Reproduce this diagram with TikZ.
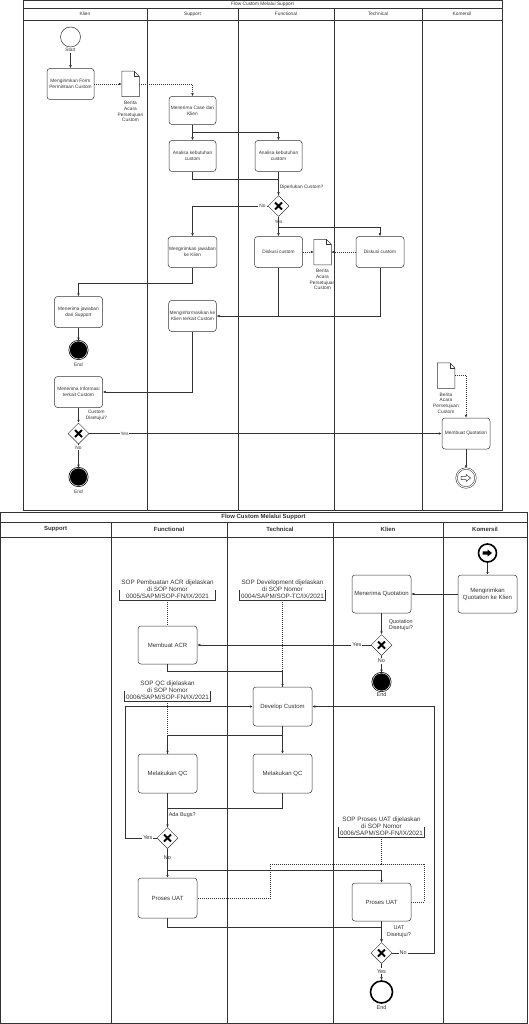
\documentclass[tikz,border=0pt]{standalone}
\usepackage{fontspec}
\setmainfont{Liberation Sans}
\usetikzlibrary{shapes.geometric,arrows.meta}

\newcommand{\kecil}{\fontsize{4.8}{5.6}\selectfont}
\newcommand{\sedang}{\fontsize{6}{7}\selectfont}

% ikon dokumen
\newcommand{\berkas}[2]{%
  \node[dok] (#1) at (#2) {};
  \draw[fill=white] (#1.north west) -- ([xshift=-5pt]#1.north east) -- ([yshift=-5pt]#1.north east) -- (#1.south east) -- (#1.south west) -- cycle;
  \draw ([xshift=-5pt]#1.north east) |- ([yshift=-5pt]#1.north east);
}

\begin{document}
\begin{tikzpicture}[x=1pt, y=-1pt, line width=0.5pt, color=black!80, >={Latex[length=3pt,width=2.6pt]}]
\tikzstyle{kolam}=[line width=0.6pt]
\tikzstyle{tugas}=[draw, rounded corners=3pt, align=center, inner sep=1pt, minimum width=47pt, minimum height=31pt, font=\kecil]
\tikzstyle{tugasB}=[tugas, minimum width=59pt, minimum height=38pt, font=\sedang]
\tikzstyle{gerbang}=[diamond, draw, fill=white, minimum width=21pt, minimum height=21pt, inner sep=0pt,
  path picture={\draw[line width=1.8pt, black] ([shift={(-3.5pt,-3.5pt)}]path picture bounding box.center) -- ([shift={(3.5pt,3.5pt)}]path picture bounding box.center)
    ([shift={(-3.5pt,3.5pt)}]path picture bounding box.center) -- ([shift={(3.5pt,-3.5pt)}]path picture bounding box.center);}]
\tikzstyle{akhir}=[circle, draw=black, fill=black, line width=0.7pt, double=white, double distance=0.5pt, minimum size=18pt, inner sep=0pt]
\tikzstyle{lbl}=[font=\kecil, inner sep=1pt]
\tikzstyle{lblB}=[font=\fontsize{5.5}{6.3}\selectfont, inner sep=1pt]
\tikzstyle{data}=[dash pattern=on 1pt off 1pt]
\tikzstyle{dok}=[minimum width=17pt, minimum height=25pt, inner sep=0pt, label={[font=\kecil, align=center, label distance=1pt]below:Berita\\Acara\\Persetujuan\\Custom}]
\tikzstyle{catatan}=[align=center, font=\fontsize{6.3}{7}\selectfont, inner sep=1.5pt, anchor=south]

\useasboundingbox (0,0) rectangle (528,1024);

% ===== diagram atas =====
\draw[kolam] (23,0.5) rectangle (502,510.5);
\draw[kolam] (23,8) -- (502,8);
\draw[kolam] (23,20) -- (502,20);
\foreach \x in {147,238,334,422} \draw[kolam] (\x,8) -- (\x,510.5);

\node[font=\kecil, inner sep=0pt] (judul1) at (262.5,4.2) {Flow Custom Melalui Support};
\node[font=\kecil] (hKlien) at (85,14) {Klien};
\node[font=\kecil] (hSupport) at (192.5,14) {Support};
\node[font=\kecil] (hFunctional) at (286,14) {Functional};
\node[font=\kecil] (hTechnical) at (378,14) {Technical};
\node[font=\kecil] (hKomersil) at (462,14) {Komersil};

\node[circle, draw, minimum size=20pt, inner sep=0pt, label={[name=lblStart, font=\kecil, inner sep=1pt]below:Start}] (mulai) at (70.5,37) {};
\node[tugas] (form) at (70.5,84) {Mengirimkan Form\\Permintaan Custom};
\berkas{dok1}{130.5,84}
\node[tugas, minimum height=28pt] (case) at (192.5,110.5) {Menerima Case dari\\Klien};
\node[tugas] (an1) at (192.5,156) {Analisa kebutuhan\\custom};
\node[tugas] (an2) at (278.5,156) {Analisa kebutuhan\\custom};
\node[gerbang] (gw1) at (278.5,206) {};
\node[tugas] (jaw) at (192.5,252) {Mengirimkan jawaban\\ke Klien};
\node[tugas, minimum width=48pt] (dis1) at (278.5,252) {Diskusi custom};
\node[tugas, minimum width=48pt] (dis2) at (380,252) {Diskusi custom};
\berkas{dok2}{322.5,252}
\node[tugas] (info) at (192.5,316) {Menginformasikan ke\\Klien terkait Custom};
\node[tugas, minimum width=48pt] (terima) at (78.5,312) {Menerima jawaban\\dari Support};
\node[akhir, label={[font=\kecil]below:End}] (akhir1) at (78.5,350) {};
\node[tugas, minimum width=48pt] (infoK) at (78.5,392) {Menerima Informasi\\terkait Custom};
\node[gerbang] (gw2) at (78.5,433.5) {};
\node[akhir, label={[font=\kecil]below:End}] (akhir2) at (78.5,477) {};
\node[tugas, minimum width=48pt] (quot) at (466,433.5) {Membuat Quotation};
\berkas{dok3}{446,375.5}
\node[circle, draw, double, double distance=1pt, minimum size=19pt, inner sep=0pt] (lempar) at (466,478) {};
\draw[shift={(lempar.center)}] (-5,-1.6) -- (0,-1.6) -- (0,-3.6) -- (4.5,0) -- (0,3.6) -- (0,1.6) -- (-5,1.6) -- cycle;

\draw[->] (lblStart) -- (form);
\draw[data,->] (form) -- (dok1);
\draw[data,->] (dok1.east) -| (case.north);
\draw[->] (case) -- (an1);
\draw[->] (case.south) -- ++(0,8) -| (an2.north);
\draw (an1.south) -- ++(0,8) -| (gw1.north);
\draw[->] (an2) -- node[lbl, right, pos=0.68]{Diperlukan Custom?} (gw1);
\draw[->] (gw1) -| node[lbl, fill=white, pos=0.035]{No} (jaw);
\draw[->] (gw1) -- node[lbl, fill=white, pos=0.25]{Yes} (dis1);
\draw[->] (gw1.south) -- ++(0,10.5) -| (dis2.north);
\draw[data,->] (dis1) -- (dok2);
\draw[data,->] (dis2) -- (dok2);
\draw[->] (dis1) |- (info);
\draw (dis2) |- (dis1.south |- info.east);
\draw[->] (jaw.south) -- ++(0,15) -| (terima.north);
\draw[->] (terima) -- (akhir1);
\draw[->] (info) |- (infoK);
\draw[->] (infoK) -- node[lbl, right, align=center, xshift=6pt]{Custom\\Disetujui?} (gw2);
\draw[->] (gw2) -- node[lbl, fill=white, pos=0.1]{Yes} (quot);
\draw[->] (gw2) -- node[lbl, fill=white, pos=0.15]{No} (akhir2);
\draw[data,->] (dok3.east) -| (quot.north);
\draw[->] (quot) -- (lempar);

% ===== diagram bawah =====
\draw[kolam] (0.5,512) rectangle (527.5,1023.5);
\draw[kolam] (0.5,522) -- (527.5,522);
\draw[kolam] (0.5,537) -- (527.5,537);
\foreach \x in {111,227,333,443} \draw[kolam] (\x,522) -- (\x,1023.5);

\node[font=\sedang\bfseries, inner sep=0pt] (judul2) at (263.5,517) {Flow Custom Melalui Support};
\node[font=\sedang\bfseries] (bSupport) at (55.5,529.5) {Support};
\node[font=\sedang\bfseries] (bFunctional) at (169,529.5) {Functional};
\node[font=\sedang\bfseries] (bTechnical) at (280,529.5) {Technical};
\node[font=\sedang\bfseries] (bKlien) at (388,529.5) {Klien};
\node[font=\sedang\bfseries] (bKomersil) at (485,529.5) {Komersil};

\node[circle, draw=black, line width=1.6pt, minimum size=18pt, inner sep=0pt] (mulaiQ) at (487.5,553) {};
\fill[black, shift={(mulaiQ.center)}] (-5,-1.6) -- (0,-1.6) -- (0,-3.6) -- (4.5,0) -- (0,3.6) -- (0,1.6) -- (-5,1.6) -- cycle;
\node[tugasB] (kirimQ) at (487.5,594) {Mengirimkan\\Quotation ke Klien};
\node[tugasB] (terimaQ) at (381.5,594) {Menerima Quotation};
\node[gerbang] (gw3) at (381.5,645) {};
\node[akhir, label={[lblB]below:End}] (akhir3) at (381.5,682) {};
\node[tugasB] (acr) at (167.5,645) {Membuat ACR};
\node[catatan] (sop1) at (167.5,600) {SOP Pembuatan ACR dijelaskan\\di SOP Nomor\\0005/SAPM/SOP-FN/IX/2021};
\node[catatan] (sop2) at (282.5,600) {SOP Development dijelaskan\\di SOP Nomor\\0004/SAPM/SOP-TC/IX/2021};
\node[catatan] (sopqc) at (167.5,701) {SOP QC dijelaskan\\di SOP Nomor\\0006/SAPM/SOP-FN/IX/2021};
\node[catatan] (sopuat) at (381.5,837) {SOP Proses UAT dijelaskan\\di SOP Nomor\\0006/SAPM/SOP-FN/IX/2021};
\node[tugasB, minimum height=39pt] (dev) at (282.5,706.5) {Develop Custom};
\node[tugasB, minimum height=39pt] (qc1) at (167.5,773.5) {Melakukan QC};
\node[tugasB, minimum height=39pt] (qc2) at (282.5,773.5) {Melakukan QC};
\node[gerbang] (gw4) at (167.5,838) {};
\node[tugasB, minimum height=40pt] (uat1) at (167.5,898) {Proses UAT};
\node[tugasB] (uat2) at (381.5,902) {Proses UAT};
\node[gerbang] (gw5) at (381.5,953) {};
\node[circle, draw=black, fill=white, line width=1.6pt, minimum size=22pt, inner sep=0pt, label={[lblB]below:End}] (akhir4) at (381.5,992) {};

\foreach \n in {sop1,sop2,sopqc,sopuat}
  \draw ([yshift=10pt]\n.south west) -- (\n.south west) -- (\n.south east) -- ([yshift=10pt]\n.south east);

\draw[->] (mulaiQ) -- (kirimQ);
\draw[->] (kirimQ) -- (terimaQ);
\draw[->] (terimaQ) -- node[lblB, right, align=center, pos=0.55, xshift=6pt]{Quotation\\Disetujui?} (gw3);
\draw[->] (gw3) -- node[lblB, fill=white, pos=0.08]{Yes} (acr);
\draw[->] (gw3) -- node[lblB, fill=white, pos=0.3]{No} (akhir3);
\draw[data] (sop1) -- (acr);
\draw[data] (sop2) -- (dev);
\draw[data] (sopqc) -- (qc1);
\draw[->] (acr.south) -- ++(0,7) -| (dev.north);
\draw[->] (dev) -- (qc2);
\draw[->] (dev.south) -- ++(0,9) -| (qc1.north);
\draw[->] (qc1) -- node[lblB, right, pos=0.65]{Ada Bugs?} (gw4);
\draw (qc2.south) -- ++(0,15) -| (gw4.north);
\draw[->] (gw4.west) -- node[lblB, fill=white, pos=0.28]{Yes} ++(-32,0) |- (dev.west);
\draw[->] (gw4) -- node[lblB, fill=white, pos=0.3]{No} (uat1);
\draw[->] (gw4.south) -- ++(0,21) -| (uat2.north);
\draw[data] (sopuat.south) -- ++(0,27) -| ([xshift=73pt]uat1.east) -- (uat1.east);
\draw[data] (sopuat.south) -- ++(0,27) -| ([xshift=13pt]uat2.east) -- (uat2.east);
\draw[->] (uat1.south) -- ++(0,9) -| (gw5.north);
\draw[->] (uat2) -- node[lblB, right, align=center, xshift=4pt]{UAT\\Disetujui?} (gw5);
\draw[->] (gw5.east) -- node[lblB, fill=white, pos=0.26]{No} ++(42,0) |- (dev.east);
\draw[->] (gw5) -- node[lblB, fill=white, pos=0.45]{Yes} (akhir4);

\end{tikzpicture}
\end{document}
